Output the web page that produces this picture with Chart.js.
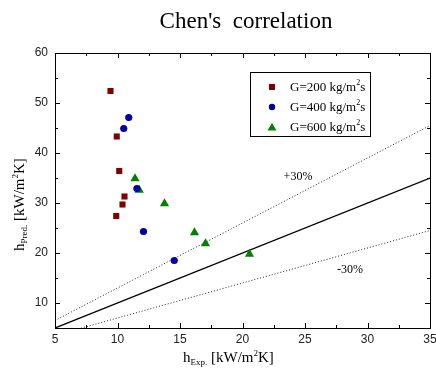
<!DOCTYPE html>
<html>
<head>
<meta charset="utf-8">
<script src="https://cdn.jsdelivr.net/npm/chart.js@4"></script>
<style>
  html, body { margin: 0; padding: 0; background: #fff; }
  #wrap { width: 436px; height: 372px; }
</style>
</head>
<body>
<div id="wrap"><canvas id="chart" width="436" height="372"></canvas></div>
<script>
// data
const g200X = [9.44, 9.94, 10.14, 10.56, 10.4, 9.9];
const g200Y = [52.4, 43.3, 36.4, 31.3, 29.7, 27.4];
const g400X = [10.9, 10.5, 11.55, 12.08, 14.54];
const g400Y = [47.1, 44.9, 32.9, 24.3, 18.5];
const g600X = [11.4, 11.74, 13.76, 16.16, 17.04, 20.56];
const g600Y = [34.9, 32.6, 29.9, 24.1, 21.9, 19.8];
const seriesNames = ['G=200 kg/m\u00b2s', 'G=400 kg/m\u00b2s', 'G=600 kg/m\u00b2s'];
const refX = [5, 35];
const bandFactors = [1.3, 0.7];
const xTicks = [5, 10, 15, 20, 25, 30, 35];
const yTicks = [10, 20, 30, 40, 50, 60];

const pts = (xs, ys) => xs.map((x, i) => ({ x: x, y: ys[i] }));
const refLine = k => refX.map(x => ({ x: x, y: x * k }));

const SERIF = '"Liberation Serif", "Times New Roman", serif';
const SANS = '"Liberation Sans", Arial, sans-serif';

// draw text runs with sub/superscripts
function drawRuns(ctx, runs, x, y) {
  let cx = x;
  runs.forEach(r => {
    ctx.font = r.size + 'px ' + SERIF;
    ctx.fillText(r.t, cx, y + (r.dy || 0));
    cx += ctx.measureText(r.t).width;
  });
  return cx - x;
}

const framePlugin = {
  id: 'frame',
  afterDraw(chart) {
    const ctx = chart.ctx;
    const a = chart.chartArea;
    const xs = chart.scales.x, ys = chart.scales.y;
    ctx.save();
    ctx.strokeStyle = '#000';
    ctx.lineWidth = 1;
    ctx.strokeRect(Math.round(a.left) + 0.5, Math.round(a.top) + 0.5,
      Math.round(a.right - a.left), Math.round(a.bottom - a.top));
    ctx.beginPath();
    // x ticks (major + minor), bottom and top, pointing inwards
    for (let v = 5; v <= 35; v += 2.5) {
      const px = Math.round(xs.getPixelForValue(v)) + 0.5;
      const len = (v % 5 === 0) ? 5 : 3;
      ctx.moveTo(px, a.bottom); ctx.lineTo(px, a.bottom - len);
      ctx.moveTo(px, a.top); ctx.lineTo(px, a.top + len);
    }
    for (let v = 5; v <= 60; v += 5) {
      const py = Math.round(ys.getPixelForValue(v)) + 0.5;
      const len = (v % 10 === 0) ? 5 : 3;
      ctx.moveTo(a.left, py); ctx.lineTo(a.left + len, py);
      ctx.moveTo(a.right, py); ctx.lineTo(a.right - len, py);
    }
    ctx.stroke();

    // title
    ctx.fillStyle = '#000';
    ctx.font = '23px ' + SERIF;
    ctx.textAlign = 'center';
    ctx.textBaseline = 'alphabetic';
    ctx.fillText("Chen's  correlation", 246, 28);

    // band labels
    ctx.font = '12px ' + SERIF;
    ctx.fillText('+30%', 298, 180);
    ctx.fillText('-30%', 350, 273);

    // axis titles
    ctx.textAlign = 'left';
    const xRuns = [{ t: 'h', size: 15 }, { t: 'Exp.', size: 9, dy: 3 }, { t: ' [kW/m', size: 15 },
      { t: '2', size: 9, dy: -6 }, { t: 'K]', size: 15 }];
    drawRuns(ctx, xRuns, 183, 362);
    const yRuns = [{ t: 'h', size: 15 }, { t: 'Pred.', size: 9, dy: 3 }, { t: ' [kW/m', size: 15 },
      { t: '2', size: 9, dy: -6 }, { t: 'K]', size: 15 }];
    ctx.save();
    ctx.translate(24, 251);
    ctx.rotate(-Math.PI / 2);
    drawRuns(ctx, yRuns, 0, 0);
    ctx.restore();

    // legend
    ctx.strokeRect(250.5, 72.5, 120, 64);
    const ds = chart.data.datasets;
    ctx.textBaseline = 'middle';
    for (let i = 0; i < 3; i++) {
      const y = 87 + i * 20;
      const d = ds[i];
      ctx.fillStyle = d.backgroundColor;
      ctx.beginPath();
      if (d.pointStyle === 'rect') {
        ctx.fillRect(269, y - 3, 6, 6);
      } else if (d.pointStyle === 'circle') {
        ctx.arc(272, y, 3.2, 0, Math.PI * 2); ctx.fill();
      } else {
        ctx.moveTo(272, y - 4); ctx.lineTo(276.5, y + 3.5); ctx.lineTo(267.5, y + 3.5); ctx.closePath(); ctx.fill();
      }
      ctx.fillStyle = '#000';
      const parts = seriesNames[i].split('\u00b2');
      ctx.font = '13px ' + SERIF;
      let cx = 290;
      ctx.fillText(parts[0], cx, y + 1);
      cx += ctx.measureText(parts[0]).width;
      ctx.font = '8px ' + SERIF;
      ctx.fillText('2', cx, y - 4);
      cx += ctx.measureText('2').width;
      ctx.font = '13px ' + SERIF;
      ctx.fillText(parts[1], cx, y + 1);
    }
    ctx.restore();
  }
};

new Chart(document.getElementById('chart'), {
  type: 'scatter',
  data: {
    datasets: [
      { label: seriesNames[0], data: pts(g200X, g200Y), pointStyle: 'rect', pointRadius: 4.3,
        backgroundColor: '#800000', borderColor: '#800000', borderWidth: 0 },
      { label: seriesNames[1], data: pts(g400X, g400Y), pointStyle: 'circle', pointRadius: 3.6,
        backgroundColor: '#0000a0', borderColor: '#0000a0', borderWidth: 0 },
      { label: seriesNames[2], data: pts(g600X, g600Y), pointStyle: 'triangle', pointRadius: 5.3,
        backgroundColor: '#008000', borderColor: '#008000', borderWidth: 0 },
      { type: 'line', data: refLine(1), borderColor: '#000', borderWidth: 1.3, pointRadius: 0, fill: false },
      { type: 'line', data: refLine(bandFactors[0]), borderColor: '#222', borderWidth: 1, borderDash: [1, 2],
        pointRadius: 0, fill: false },
      { type: 'line', data: refLine(bandFactors[1]), borderColor: '#222', borderWidth: 1, borderDash: [1, 2],
        pointRadius: 0, fill: false }
    ]
  },
  options: {
    responsive: false,
    animation: false,
    layout: { padding: { left: 0, right: 6, top: 53, bottom: 0 } },
    plugins: { legend: { display: false }, tooltip: { enabled: false }, title: { display: false } },
    scales: {
      x: {
        type: 'linear', min: 5, max: 35,
        afterBuildTicks: s => { s.ticks = xTicks.map(v => ({ value: v })); },
        afterFit: s => { s.height = 44; s.paddingLeft = 0; s.paddingRight = 0; },
        grid: { display: false, drawTicks: false, tickLength: 0 }, border: { display: false },
        ticks: { padding: 4, color: '#222', font: { family: SANS, size: 12 }, maxRotation: 0 }
      },
      y: {
        type: 'linear', min: 5, max: 60,
        afterBuildTicks: s => { s.ticks = yTicks.map(v => ({ value: v })); },
        afterFit: s => { s.width = 55; s.paddingTop = 0; s.paddingBottom = 0; },
        grid: { display: false, drawTicks: false, tickLength: 0 }, border: { display: false },
        ticks: { padding: 7, color: '#222', font: { family: SANS, size: 12 } }
      }
    }
  },
  plugins: [framePlugin]
});
</script>
</body>
</html>
